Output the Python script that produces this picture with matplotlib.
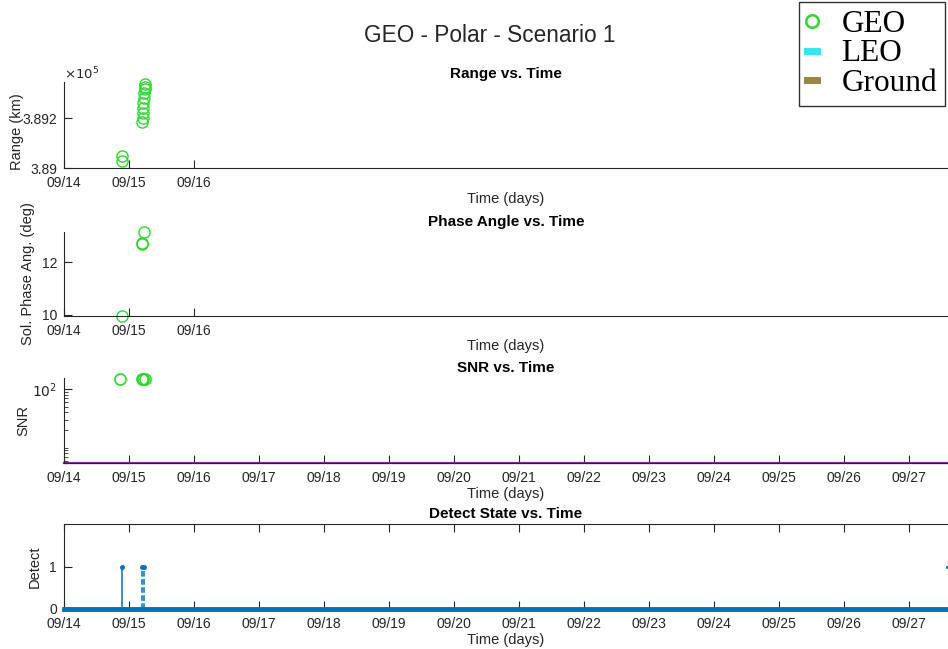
import numpy as np
import matplotlib
matplotlib.use("Agg")
import matplotlib.pyplot as plt
from matplotlib.lines import Line2D
from matplotlib.ticker import NullFormatter

# --- data (time in days since 09/14) ---
day_labels = ["09/14", "09/15", "09/16", "09/17", "09/18", "09/19", "09/20",
              "09/21", "09/22", "09/23", "09/24", "09/25", "09/26", "09/27"]

range_t = [0.888, 0.888, 1.205, 1.208, 1.213, 1.218, 1.222, 1.228, 1.232, 1.240, 1.245, 1.247]
range_km = [389048, 389028, 389184, 389200, 389220, 389240, 389260, 389280, 389300, 389315, 389325, 389336]

phase_t = [0.888, 1.195, 1.200, 1.235]
phase_deg = [9.95, 12.72, 12.74, 13.16]

snr_t = [0.862, 1.195, 1.210, 1.240]
snr_val = [150, 150, 150, 150]

det_t = [0.888, 1.195, 1.235]
det_val = [1, 1, 1]
det_style = ["-", "--", "--"]
det_end_t = [13.58]
det_end_val = [1]

green = "#2fd72f"
blue = "#0072bd"
purple = "#7e2f8e"
cyan = "#33e8f0"
olive = "#9c8544"
txt = "#262626"

plt.rcParams["font.family"] = ["Liberation Sans", "DejaVu Sans"]

fig = plt.figure(figsize=(9.48, 6.49), dpi=100)
W, H = 948, 649
left = 64 / W
width = 1 - left
xmax = (W - 64) / 65.0

# (bottom px, top px) for each panel
rows = [(168, 82), (316, 232), (463, 378), (609, 524)]
axes = []
for b, t in rows:
    ax = fig.add_axes([left, 1 - b / H, width, (b - t) / H])
    ax.set_xlim(0, xmax)
    ax.tick_params(direction="in", length=6, colors=txt, labelsize=10)
    ax.tick_params(axis="x", pad=6)
    ax.tick_params(axis="y", pad=5)
    for s in ax.spines.values():
        s.set_color(txt)
        s.set_linewidth(0.8)
    ax.spines["right"].set_visible(False)
    axes.append(ax)

ax1, ax2, ax3, ax4 = axes

# range
ax1.plot(range_t, range_km, "o", mfc="none", mec=green, ms=8, mew=1, clip_on=False)
ax1.set_ylim(389000, 389344)
ax1.set_yticks([389000, 389200])
ax1.set_yticklabels(["3.89", "3.892"])
ax1.text(0, 1.0, r"$\times10^5$", transform=ax1.transAxes, fontsize=9.5, color=txt,
         ha="left", va="bottom")
ax1.set_title("Range vs. Time", fontsize=11, fontweight="bold", pad=3)
ax1.set_ylabel("Range (km)", fontsize=10.5, color=txt)
ax1.yaxis.set_label_coords(-0.045, 0.42)

# phase
ax2.plot(phase_t, phase_deg, "o", mfc="none", mec=green, ms=8, mew=1, clip_on=False)
ax2.set_ylim(9.96, 13.16)
ax2.set_yticks([10, 12])
ax2.set_title("Phase Angle vs. Time", fontsize=11, fontweight="bold", pad=4)
ax2.set_ylabel("Sol. Phase Ang. (deg)", fontsize=10.5, color=txt)
ax2.yaxis.set_label_coords(-0.033, 0.5)

for ax in (ax1, ax2):
    ax.spines["top"].set_visible(False)
    ax.set_xticks([0, 1, 2])
    ax.set_xticklabels(day_labels[:3])

# snr
ax3.set_yscale("log")
ax3.plot(snr_t, snr_val, "o", mfc="none", mec=green, ms=8, mew=1.2, clip_on=False)
ax3.set_ylim(5.5, 155)
ax3.axhline(5.5, color=purple, lw=1.6, clip_on=False)
ax3.set_yticks([100])
ax3.set_yticklabels([r"$10^2$"])
ax3.set_yticks([6, 7, 8, 9, 10, 20, 30, 40, 50, 60, 70, 80, 90], minor=True)
ax3.yaxis.set_minor_formatter(NullFormatter())
ax3.tick_params(which="minor", direction="in", length=3, colors=txt)
ax3.spines["top"].set_visible(False)
ax3.set_title("SNR vs. Time", fontsize=11, fontweight="bold", pad=4)
ax3.set_ylabel("SNR", fontsize=10.5, color=txt)
ax3.yaxis.set_label_coords(-0.038, 0.5)

# detect state
ax4.set_ylim(0, 2)
ax4.set_yticks([0, 1])
ax4.axhline(0, color=blue, lw=3.5, clip_on=False, zorder=3)
for tt, vv, ls in zip(det_t, det_val, det_style):
    ax4.plot([tt, tt], [0, vv], ls, color=blue, lw=1.1, clip_on=False)
ax4.plot(det_t, det_val, ".", color=blue, ms=5, clip_on=False)
ax4.plot(det_t[1:], det_val[1:], "-", color=blue, lw=2)
ax4.plot(det_end_t, det_end_val, ".", color=blue, ms=2.5, clip_on=False)
ax4.set_title("Detect State vs. Time", fontsize=11, fontweight="bold", pad=4)
ax4.set_ylabel("Detect", fontsize=10.5, color=txt)
ax4.yaxis.set_label_coords(-0.025, 0.5)
ax4.tick_params(top=True)

for ax in (ax3, ax4):
    ax.set_xticks(range(len(day_labels)))
    ax.set_xticklabels(day_labels)

for ax in axes:
    ax.set_xlabel("Time (days)", fontsize=10.5, color=txt)
    ax.xaxis.set_label_coords(0.5, -0.36)
    ax.xaxis.label.set_verticalalignment("center")

fig.text(490 / W, 1 - 35 / H, "GEO - Polar - Scenario 1", fontsize=16.3, color=txt,
         ha="center", va="center")

handles = [
    Line2D([], [], marker="o", ls="none", mfc="none", mec=green, ms=9, mew=1.8),
    Line2D([], [], color=cyan, lw=5),
    Line2D([], [], color=olive, lw=5),
]
leg = fig.legend(handles, ["GEO", "LEO", "Ground"], loc="upper right",
                 bbox_to_anchor=(945 / W, 1 - 2 / H), prop={"family": "Liberation Serif", "size": 22.5},
                 frameon=True, fancybox=False, edgecolor="black", handlelength=0.3,
                 handletextpad=0.8, borderpad=0.25, labelspacing=0.02, borderaxespad=0)
leg.get_frame().set_linewidth(1)

fig.savefig("out.png", dpi=100)
